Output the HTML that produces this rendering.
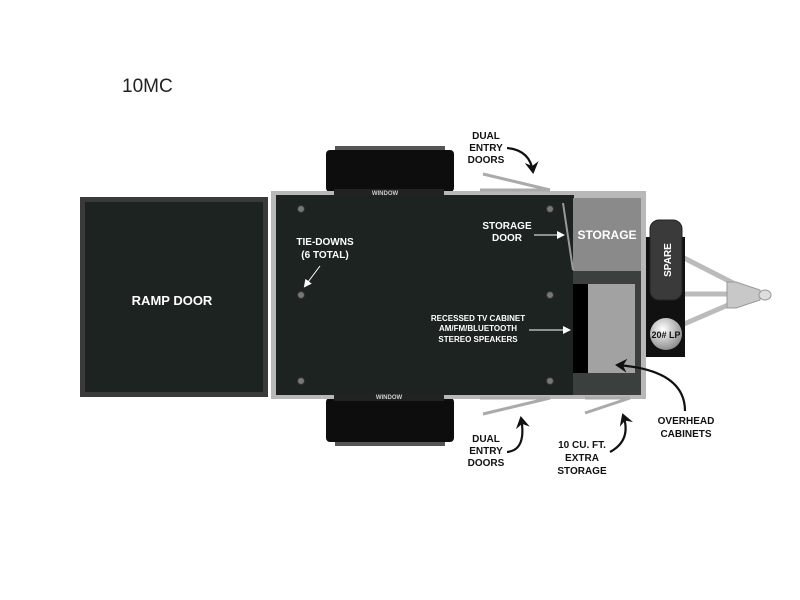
<!DOCTYPE html>
<html><head><meta charset="utf-8"><style>
body{margin:0;background:#fff;}
svg{display:block;font-family:"Liberation Sans",Arial,sans-serif;font-weight:bold;}
</style></head><body>
<svg width="800" height="600" viewBox="0 0 800 600" xmlns="http://www.w3.org/2000/svg">
<defs>
<marker id="ah" markerWidth="8" markerHeight="8" refX="6" refY="4" orient="auto" markerUnits="userSpaceOnUse"><path d="M0,0 L8,4 L0,8 Z" fill="#fff"/></marker>
<marker id="bh" markerWidth="14" markerHeight="14" refX="10" refY="7" orient="auto" markerUnits="userSpaceOnUse"><path d="M0,0 L12,7 L0,14 L4,7 Z" fill="#111"/></marker>
<radialGradient id="lp" cx="0.4" cy="0.35" r="0.7"><stop offset="0" stop-color="#fff"/><stop offset="1" stop-color="#888"/></radialGradient>
</defs>
<text x="122" y="92" font-family="Liberation Sans,sans-serif" font-weight="normal" font-size="19" fill="#222">10MC</text>

<!-- tongue -->
<g stroke="#bbb" stroke-width="5" fill="none">
<line x1="684" y1="258" x2="735" y2="284"/>
<line x1="684" y1="324" x2="735" y2="302"/>
<line x1="684" y1="294" x2="735" y2="294"/>
</g>
<path d="M727,282 L736,282 L760,290 L760,300 L736,308 L727,308 Z" fill="#c8c8c8" stroke="#999"/>
<ellipse cx="765" cy="295" rx="6" ry="5" fill="#ddd" stroke="#999"/>

<!-- tires -->
<rect x="335" y="146" width="110" height="6" fill="#555"/>
<rect x="326" y="150" width="128" height="42" rx="4" fill="#0d0d0d"/>
<rect x="335" y="440" width="110" height="6" fill="#555"/>
<rect x="326" y="398" width="128" height="44" rx="4" fill="#0d0d0d"/>

<!-- ramp door -->
<rect x="80" y="197" width="188" height="200" fill="#3a3a3a"/>
<rect x="85" y="202" width="178" height="190" fill="#1c2321"/>
<text x="172" y="305" font-size="13" fill="#fff" text-anchor="middle">RAMP DOOR</text>

<!-- body -->
<rect x="271" y="191" width="375" height="208" fill="#b8b8b8"/>
<rect x="276" y="195" width="298" height="200" fill="#1c2321"/>
<rect x="573" y="198" width="68" height="74" fill="#8a8a8a"/>
<rect x="573" y="271" width="68" height="124" fill="#3b3f3e"/>
<rect x="573" y="284" width="15" height="89" fill="#000"/>
<rect x="588" y="284" width="47" height="89" fill="#a2a2a2"/>
<line x1="563" y1="203" x2="573" y2="270" stroke="#999" stroke-width="2"/>
<rect x="334" y="189" width="110" height="7" fill="#222"/>
<text x="385" y="195" font-size="6" fill="#ccc" text-anchor="middle">WINDOW</text>
<rect x="334" y="394" width="110" height="7" fill="#222"/>
<text x="389" y="399" font-size="6" fill="#ccc" text-anchor="middle">WINDOW</text>
<text x="607" y="239" font-size="12" fill="#fff" text-anchor="middle">STORAGE</text>

<!-- dots -->
<g fill="#777" stroke="#333">
<circle cx="301" cy="209" r="3.5"/><circle cx="550" cy="209" r="3.5"/>
<circle cx="301" cy="295" r="3.5"/><circle cx="550" cy="295" r="3.5"/>
<circle cx="301" cy="381" r="3.5"/><circle cx="550" cy="381" r="3.5"/>
</g>

<!-- labels inside -->
<g fill="#fff" text-anchor="middle">
<text x="325" y="245" font-size="10">TIE-DOWNS</text>
<text x="325" y="258" font-size="10">(6 TOTAL)</text>
<text x="507" y="229" font-size="10">STORAGE</text>
<text x="507" y="241" font-size="10">DOOR</text>
<text x="478" y="321" font-size="8">RECESSED TV CABINET</text>
<text x="478" y="331" font-size="8">AM/FM/BLUETOOTH</text>
<text x="478" y="342" font-size="8">STEREO SPEAKERS</text>
</g>
<g stroke="#fff" stroke-width="1" marker-end="url(#ah)">
<line x1="320" y1="266" x2="305" y2="286"/>
<line x1="534" y1="235" x2="563" y2="235"/>
<line x1="529" y1="330" x2="569" y2="330"/>
</g>

<!-- doors -->
<g stroke="#aaa" stroke-width="3">
<line x1="483" y1="174" x2="550" y2="190"/>
<line x1="480" y1="190" x2="550" y2="190"/>
<line x1="483" y1="414" x2="550" y2="398"/>
<line x1="480" y1="398" x2="550" y2="398"/>
<line x1="585" y1="413" x2="630" y2="398"/>
<line x1="585" y1="398" x2="630" y2="398"/>
</g>

<!-- spare -->
<rect x="646" y="237" width="39" height="120" fill="#111"/>
<rect x="650" y="220" width="32" height="80" rx="9" fill="#3a3a3a" stroke="#222"/>
<text transform="translate(671,260) rotate(-90)" font-size="10" fill="#fff" text-anchor="middle">SPARE</text>
<circle cx="666" cy="334" r="16" fill="url(#lp)"/>
<text x="666" y="338" font-size="9" fill="#111" text-anchor="middle">20# LP</text>

<!-- outside labels -->
<g fill="#111" text-anchor="middle" font-size="10">
<text x="486" y="139">DUAL</text><text x="486" y="151">ENTRY</text><text x="486" y="163">DOORS</text>
<text x="486" y="442">DUAL</text><text x="486" y="454">ENTRY</text><text x="486" y="466">DOORS</text>
<text x="582" y="448">10 CU. FT.</text><text x="582" y="461">EXTRA</text><text x="582" y="474">STORAGE</text>
<text x="686" y="424">OVERHEAD</text><text x="686" y="437">CABINETS</text>
</g>
<g stroke="#111" stroke-width="2.2" fill="none" marker-end="url(#bh)">
<path d="M507,148 Q530,150 533,172"/>
<path d="M507,452 Q527,450 521,418"/>
<path d="M610,452 Q632,440 623,415"/>
<path d="M685,411 Q685,370 617,365"/>
</g>
</svg>
</body></html>
